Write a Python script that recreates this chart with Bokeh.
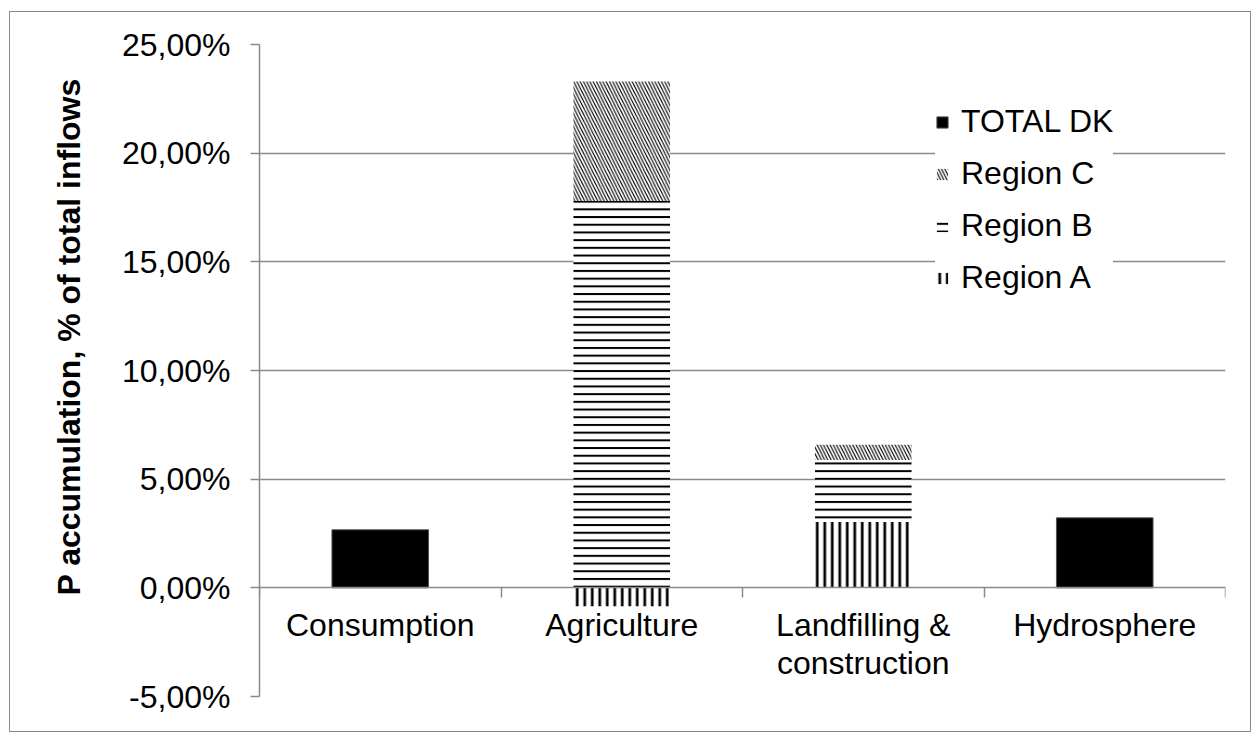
from bokeh.plotting import figure
from bokeh.models import (Range1d, FixedTicker, LinearAxis, Title, Legend,
                          LegendItem, ColumnDataSource)
from bokeh.embed import file_html
from bokeh.resources import INLINE

# ---- data -------------------------------------------------------------
categories = ["Consumption", "Agriculture", "Landfilling &\nconstruction", "Hydrosphere"]
total_dk = [2.67, None, None, 3.22]
region_a = [None, -0.85, 3.03, None]
region_b = [None, 17.8, 2.85, None]
region_c = [None, 5.5, 0.7, None]

y_ticks = [-5, 0, 5, 10, 15, 20, 25]
y_tick_labels = ["-5,00%", "0,00%", "5,00%", "10,00%", "15,00%", "20,00%", "25,00%"]
y_title = "P accumulation, % of total inflows"

FONT = "Liberation Sans"
FS = "32px"
GREY = "#8a8a8a"

n = len(categories)
centers = [i + 0.5 for i in range(n)]
pos_base = [0.0] * n
neg_base = [0.0] * n


def stacked(vals):
    xs, bottoms, tops = [], [], []
    for i, v in enumerate(vals):
        if v is None:
            continue
        if v >= 0:
            b = pos_base[i]
            t = b + v
            pos_base[i] = t
        else:
            b = neg_base[i]
            t = b + v
            neg_base[i] = t
        xs.append(centers[i])
        bottoms.append(b)
        tops.append(t)
    return ColumnDataSource(dict(x=xs, bottom=bottoms, top=tops))


src_total = ColumnDataSource(dict(
    x=[centers[i] for i, v in enumerate(total_dk) if v is not None],
    bottom=[0.0 for v in total_dk if v is not None],
    top=[v for v in total_dk if v is not None]))
src_a = stacked(region_a)
src_b = stacked(region_b)
src_c = stacked(region_c)

# ---- figure -----------------------------------------------------------
p = figure(width=1242, height=721,
           x_range=Range1d(0, n), y_range=Range1d(y_ticks[0], y_ticks[-1]),
           x_axis_type=None, output_backend="svg", toolbar_location=None,
           min_border_left=249, min_border_right=27,
           min_border_top=32, min_border_bottom=37)
p.title.visible = False
p.outline_line_color = None
p.background_fill_color = "white"
p.border_fill_color = "white"
p.styles = {"border": "1px solid #8a8a8a", "margin-top": "11px", "margin-left": "9px"}

# y axis
yax = p.yaxis[0]
yax.ticker = FixedTicker(ticks=y_ticks)
yax.major_label_overrides = dict(zip(y_ticks, y_tick_labels))
yax.major_label_text_font = FONT
yax.major_label_text_font_size = FS
yax.major_label_text_color = "black"
yax.major_label_standoff = 20
yax.major_tick_out = 9
yax.major_tick_in = 0
yax.minor_tick_line_color = None
yax.axis_line_color = GREY
yax.axis_line_width = 1.5
yax.major_tick_line_color = GREY
yax.major_tick_line_width = 1.5

# grid
p.ygrid[0].ticker = FixedTicker(ticks=[t for t in y_ticks if t > 0])
p.ygrid[0].grid_line_color = GREY
p.ygrid[0].grid_line_width = 1.5

# y title, offset like the original
p.add_layout(Title(text=y_title, text_font=FONT, text_font_size=FS,
                   text_font_style="bold", text_color="black",
                   align="left", offset=101, standoff=64), "left")

# bars
bw = 0.4
r_total = p.vbar(x="x", bottom="bottom", top="top", width=bw, source=src_total,
                 fill_color="black", line_color="#555555", line_width=1)
r_a = p.vbar(x="x", bottom="bottom", top="top", width=bw, source=src_a,
             fill_color="white", line_color=None, hatch_pattern="|",
             hatch_color="black", hatch_scale=7.5, hatch_weight=2.7)
r_b = p.vbar(x="x", bottom="bottom", top="top", width=bw, source=src_b,
             fill_color="white", line_color=None, hatch_pattern="-",
             hatch_color="black", hatch_scale=7.7, hatch_weight=2.0)
r_c = p.vbar(x="x", bottom="bottom", top="top", width=bw, source=src_c,
             fill_color="white", line_color=None, hatch_pattern="\\",
             hatch_color="black", hatch_scale=6.5, hatch_weight=1.1)

# x axis at zero: boundaries ticks
xax_ticks = LinearAxis(ticker=FixedTicker(ticks=list(range(n + 1))),
                       fixed_location=0,
                       major_label_text_color=None,
                       major_tick_out=10, major_tick_in=0,
                       major_tick_line_color=GREY, major_tick_line_width=1.5,
                       minor_tick_line_color=None,
                       axis_line_color=GREY, axis_line_width=1.5)
p.add_layout(xax_ticks, "below")

# x axis at zero: category labels
xax_labels = LinearAxis(ticker=FixedTicker(ticks=centers),
                        fixed_location=0,
                        major_label_overrides=dict(zip(centers, categories)),
                        major_label_text_font=FONT,
                        major_label_text_font_size=FS,
                        major_label_text_color="black",
                        major_label_text_line_height=1.05,
                        major_label_standoff=13,
                        major_tick_line_color=None,
                        minor_tick_line_color=None,
                        axis_line_color=None)
p.add_layout(xax_labels, "below")

# legend
legend = Legend(items=[
    LegendItem(label="TOTAL DK", renderers=[r_total]),
    LegendItem(label="Region C", renderers=[r_c]),
    LegendItem(label="Region B", renderers=[r_b]),
    LegendItem(label="Region A", renderers=[r_a]),
], location=(676, 400), orientation="vertical",
    label_text_font=FONT, label_text_font_size=FS, label_text_color="black",
    glyph_width=14, glyph_height=14, label_standoff=12,
    spacing=15, padding=22, margin=0,
    background_fill_color="white", background_fill_alpha=1.0,
    border_line_color=None)
p.add_layout(legend, "center")

open("out.html", "w").write(file_html(p, INLINE))
